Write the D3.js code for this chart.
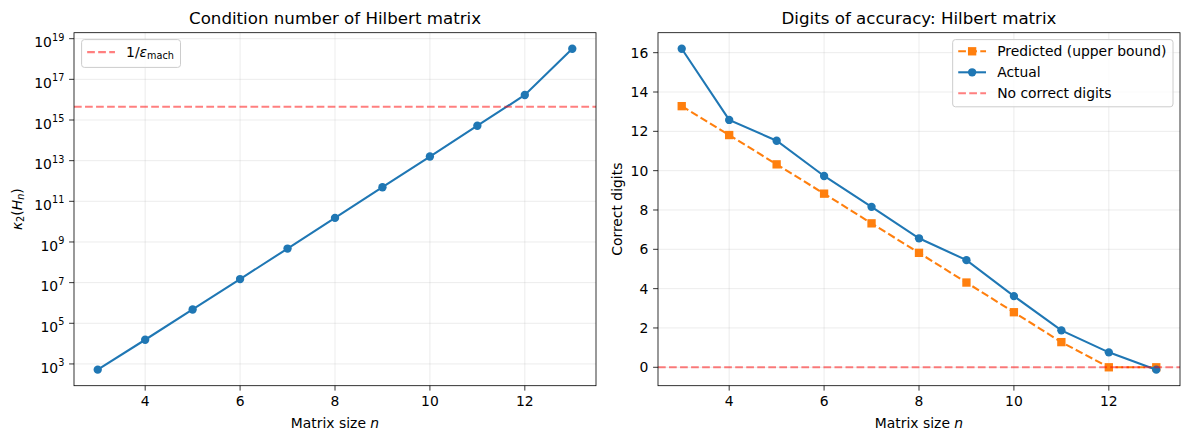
<!DOCTYPE html>
<html>
<head>
<meta charset="utf-8">
<style>
body { margin: 0; background: #fff; }
svg text { font-family: "DejaVu Sans", sans-serif; fill: #000; }
</style>
</head>
<body>
<svg id="fig" width="1189" height="440"></svg>
<script src="https://d3js.org/d3.v7.min.js"></script>
<script>
// data
var sizes = [3, 4, 5, 6, 7, 8, 9, 10, 11, 12, 13];
var condNumbers = [5.24e2, 1.55e4, 4.77e5, 1.50e7, 4.75e8, 1.53e10, 4.93e11, 1.60e13, 5.22e14, 1.70e16, 3.2e18];
var predictedDigits = [13.28, 11.81, 10.32, 8.83, 7.32, 5.82, 4.31, 2.80, 1.28, 0, 0];
var actualDigits = [16.2, 12.58, 11.52, 9.73, 8.16, 6.56, 5.45, 3.62, 1.88, 0.76, -0.12];
var xTicks = [4, 6, 8, 10, 12];
var condTickExponents = [3, 5, 7, 9, 11, 13, 15, 17, 19];
var digitTicks = [0, 2, 4, 6, 8, 10, 12, 14, 16];
var machEps = 2.22e-16;

var FS = 13.9, C0 = "#1f77b4", C1 = "#ff7f0e", RED = "#ff0000";
var axTop = 32.7, axBottom = 385.7;
var svg = d3.select("#fig");
svg.append("rect").attr("width", 1189).attr("height", 440).attr("fill", "#fff");

// matplotlib-style 5% margins
function pad(lo, hi) { var m = (hi - lo) * 0.05; return [lo - m, hi + m]; }

function panel(x0, x1, xDomain, y) {
	var g = svg.append("g");
	var x = d3.scaleLinear().domain(xDomain).range([x0, x1]);
	return { g: g, x: x, y: y, x0: x0, x1: x1 };
}

function grid(p, yTicks) {
	var gg = p.g.append("g").attr("stroke", "#b0b0b0").attr("stroke-opacity", 0.3).attr("stroke-width", 0.8);
	xTicks.forEach(function(t) {
		gg.append("line").attr("x1", p.x(t)).attr("x2", p.x(t)).attr("y1", axTop).attr("y2", axBottom);
	});
	yTicks.forEach(function(t) {
		gg.append("line").attr("x1", p.x0).attr("x2", p.x1).attr("y1", p.y(t)).attr("y2", p.y(t));
	});
}

function frame(p, yTicks) {
	var g = p.g.append("g");
	g.append("rect").attr("x", p.x0).attr("y", axTop).attr("width", p.x1 - p.x0).attr("height", axBottom - axTop)
		.attr("fill", "none").attr("stroke", "#000").attr("stroke-width", 0.8);
	xTicks.forEach(function(t) {
		g.append("line").attr("x1", p.x(t)).attr("x2", p.x(t)).attr("y1", axBottom).attr("y2", axBottom + 4.9)
			.attr("stroke", "#000").attr("stroke-width", 0.8);
		g.append("text").attr("x", p.x(t)).attr("y", axBottom + 20.3).attr("text-anchor", "middle")
			.attr("font-size", FS).text(t);
	});
	yTicks.forEach(function(t) {
		g.append("line").attr("x1", p.x0 - 4.9).attr("x2", p.x0).attr("y1", p.y(t)).attr("y2", p.y(t))
			.attr("stroke", "#000").attr("stroke-width", 0.8);
	});
}

function series(p, xs, ys, color, dashed, marker) {
	var line = d3.line().x(function(d) { return p.x(d[0]); }).y(function(d) { return p.y(d[1]); });
	var pts = xs.map(function(v, i) { return [v, ys[i]]; });
	p.g.append("path").attr("d", line(pts)).attr("fill", "none").attr("stroke", color)
		.attr("stroke-width", 2.08).attr("stroke-dasharray", dashed ? "7.7,3.33" : null);
	pts.forEach(function(d) { drawMarker(p.g, p.x(d[0]), p.y(d[1]), color, marker); });
}

function drawMarker(g, cx, cy, color, marker) {
	if (marker === "o") {
		g.append("circle").attr("cx", cx).attr("cy", cy).attr("r", 4.17).attr("fill", color);
	} else if (marker === "s") {
		g.append("rect").attr("x", cx - 4.17).attr("y", cy - 4.17).attr("width", 8.33).attr("height", 8.33).attr("fill", color);
	}
}

function hline(p, v) {
	p.g.append("line").attr("x1", p.x0).attr("x2", p.x1).attr("y1", p.y(v)).attr("y2", p.y(v))
		.attr("stroke", RED).attr("stroke-opacity", 0.5).attr("stroke-width", 2.08).attr("stroke-dasharray", "7.7,3.33");
}

function titles(p, title) {
	var cx = (p.x0 + p.x1) / 2;
	p.g.append("text").attr("x", cx).attr("y", 24.2).attr("text-anchor", "middle").attr("font-size", 16.67).text(title);
	var xl = p.g.append("text").attr("x", cx).attr("y", 427.5).attr("text-anchor", "middle").attr("font-size", FS);
	xl.append("tspan").text("Matrix size ");
	xl.append("tspan").attr("font-style", "italic").text("n");
}

function legend(p, rows, rightAlign) {
	var lg = p.g.append("g");
	var probe = lg.append("g");
	var widths = rows.map(function(r) {
		var t = probe.append("text").attr("font-size", FS);
		r.label(t);
		return t.node().getComputedTextLength();
	});
	probe.remove();
	var w = 5.56 * 2 + 27.8 + 11.1 + d3.max(widths) + 1;
	var h = rows.length === 1 ? 27.8 : 67.2;
	var lx = rightAlign ? p.x1 - 7 - w : p.x0 + 7.6;
	var ly = axTop + 6.9;
	lg.append("rect").attr("x", lx).attr("y", ly).attr("width", w).attr("height", h).attr("rx", 2.8)
		.attr("fill", "#fff").attr("fill-opacity", 0.8).attr("stroke", "#cccccc").attr("stroke-width", 1);
	rows.forEach(function(r, i) {
		var cy = rows.length === 1 ? ly + 12.5 : ly + 11.7 + i * 21;
		var hx = lx + 5.56;
		lg.append("line").attr("x1", hx).attr("x2", hx + 27.8).attr("y1", cy).attr("y2", cy)
			.attr("stroke", r.color).attr("stroke-opacity", r.alpha || 1).attr("stroke-width", 2.08)
			.attr("stroke-dasharray", r.dashed ? "7.7,3.33" : null);
		if (r.marker) drawMarker(lg, hx + 13.9, cy, r.color, r.marker);
		var t = lg.append("text").attr("x", hx + 27.8 + 11.1).attr("y", cy + 5).attr("font-size", FS);
		r.label(t);
	});
}

// left panel: condition number
var condLog = pad(Math.log10(d3.min(condNumbers)), Math.log10(d3.max(condNumbers)));
var yCond = d3.scaleLog().domain([Math.pow(10, condLog[0]), Math.pow(10, condLog[1])]).range([axBottom, axTop]);
var xDom = pad(d3.min(sizes), d3.max(sizes));
var left = panel(74, 596, xDom, yCond);
var condTicks = condTickExponents.map(function(e) { return Math.pow(10, e); });
grid(left, condTicks);
series(left, sizes, condNumbers, C0, false, "o");
hline(left, 1 / machEps);
frame(left, condTicks);
condTickExponents.forEach(function(e) {
	var t = left.g.append("text").attr("x", 64.3).attr("y", yCond(Math.pow(10, e)) + 8.6)
		.attr("text-anchor", "end").attr("font-size", FS);
	t.append("tspan").text("10");
	t.append("tspan").attr("font-size", 9.7).attr("dy", -6.7).text(e);
});
titles(left, "Condition number of Hilbert matrix");
var yl = left.g.append("text").attr("transform", "translate(22," + ((axTop + axBottom) / 2) + ") rotate(-90)")
	.attr("text-anchor", "middle").attr("font-size", FS);
yl.append("tspan").attr("font-style", "italic").text("κ");
yl.append("tspan").attr("font-size", 9.7).attr("dy", 2.4).text("2");
yl.append("tspan").attr("dy", -2.4).text("(");
yl.append("tspan").attr("font-style", "italic").text("H");
yl.append("tspan").attr("font-style", "italic").attr("font-size", 9.7).attr("dy", 2.4).text("n");
yl.append("tspan").attr("dy", -2.4).text(")");
legend(left, [{
	color: RED, alpha: 0.5, dashed: true,
	label: function(t) {
		t.append("tspan").text("1/");
		t.append("tspan").attr("font-style", "italic").text("ε");
		t.append("tspan").attr("font-size", 9.7).attr("dy", 2.2).text("mach");
	}
}], false);

// right panel: digits of accuracy
var digitsDom = pad(Math.min(d3.min(actualDigits), d3.min(predictedDigits)), Math.max(d3.max(actualDigits), d3.max(predictedDigits)));
var yDig = d3.scaleLinear().domain(digitsDom).range([axBottom, axTop]);
var right = panel(658, 1180, xDom, yDig);
grid(right, digitTicks);
series(right, sizes, predictedDigits, C1, true, "s");
series(right, sizes, actualDigits, C0, false, "o");
hline(right, 0);
frame(right, digitTicks);
digitTicks.forEach(function(v) {
	right.g.append("text").attr("x", 648.3).attr("y", yDig(v) + 5).attr("text-anchor", "end")
		.attr("font-size", FS).text(v);
});
titles(right, "Digits of accuracy: Hilbert matrix");
right.g.append("text").attr("transform", "translate(621.7," + ((axTop + axBottom) / 2) + ") rotate(-90)")
	.attr("text-anchor", "middle").attr("font-size", FS).text("Correct digits");
legend(right, [
	{ color: C1, dashed: true, marker: "s", label: function(t) { t.text("Predicted (upper bound)"); } },
	{ color: C0, marker: "o", label: function(t) { t.text("Actual"); } },
	{ color: RED, alpha: 0.5, dashed: true, label: function(t) { t.text("No correct digits"); } }
], true);
</script>
</body>
</html>
